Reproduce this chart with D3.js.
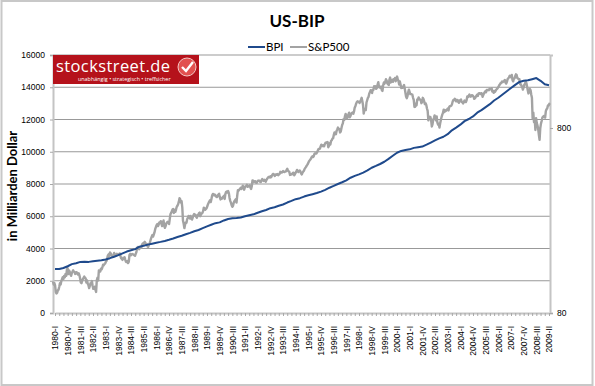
<!DOCTYPE html>
<html>
<head>
<meta charset="utf-8">
<script src="https://cdnjs.cloudflare.com/ajax/libs/d3/7.8.5/d3.min.js"></script>
<style>
	body { margin: 0; background: #fff; }
	svg { display: block; }
	text { fill: #000; }
	.axis text { font-family: "Liberation Sans", Arial, sans-serif; font-size: 8.5px; }
	.axis .domain { stroke: #c4c4c4; stroke-width: 2px; }
	.axis .tick line { stroke: #a8a8a8; }
</style>
</head>
<body>
<div id="chart"></div>
<script>
let quarterNames = ['I', 'II', 'III', 'IV'];
let startYear = 1980;

// BIP per quarter, 1980-I to 2009-II, in Milliarden Dollar
let bpi = [
	2727, 2725, 2790, 2900,
	3030, 3090, 3170, 3180,
	3170, 3210, 3240, 3270,
	3320, 3400, 3490, 3590,
	3700, 3810, 3890, 3960,
	4110, 4170, 4240, 4300,
	4360, 4410, 4470, 4540,
	4620, 4710, 4790, 4880,
	4970, 5070, 5150, 5260,
	5370, 5470, 5570, 5620,
	5740, 5830, 5880, 5890,
	5920, 6000, 6060, 6120,
	6220, 6310, 6390, 6500,
	6560, 6650, 6730, 6850,
	6950, 7060, 7120, 7220,
	7300, 7370, 7440, 7530,
	7640, 7770, 7880, 8000,
	8110, 8230, 8390, 8500,
	8600, 8710, 8840, 9010,
	9120, 9240, 9380, 9560,
	9750, 9940, 10050, 10110,
	10150, 10240, 10280, 10320,
	10440, 10570, 10700, 10830,
	10930, 11090, 11330, 11500,
	11680, 11900, 12030, 12190,
	12420, 12580, 12770, 12950,
	13180, 13350, 13550, 13750,
	13950, 14150, 14330, 14400,
	14430, 14500, 14570, 14400,
	14180, 14130
];

// S&P500 twice a month, Jan 1980 to Oct 2009, on the log axis
let sp500 = [
	118, 114, 116, 113, 104, 102, 103, 106, 107, 111, 116, 114, 119, 122, 125, 122, 127, 125, 130, 127, 137, 140, 130, 136,
	134, 130, 127, 131, 134, 136, 134, 133, 130, 133, 133, 131, 129, 131, 128, 123, 117, 116, 120, 122, 124, 126, 124, 123,
	117, 120, 115, 113, 109, 112, 116, 116, 119, 112, 108, 110, 111, 107, 104, 120, 124, 120, 136, 134, 134, 139, 138, 141,
	146, 145, 147, 148, 151, 153, 158, 164, 166, 162, 170, 168, 165, 163, 161, 164, 169, 166, 165, 164, 167, 166, 165, 165,
	168, 163, 158, 157, 155, 159, 157, 160, 155, 151, 151, 153, 149, 151, 165, 167, 164, 166, 167, 166, 165, 164, 163, 167,
	171, 180, 182, 181, 177, 181, 182, 180, 187, 190, 189, 192, 194, 191, 187, 189, 183, 182, 187, 190, 196, 202, 207, 211,
	207, 212, 218, 227, 233, 239, 242, 236, 240, 247, 245, 251, 243, 236, 246, 253, 237, 231, 236, 244, 247, 249, 247, 242,
	258, 274, 278, 284, 290, 292, 278, 288, 282, 290, 300, 304, 310, 319, 334, 330, 316, 322, 298, 252, 243, 230, 240, 247,
	246, 257, 262, 268, 264, 259, 268, 261, 256, 262, 270, 274, 270, 272, 265, 262, 268, 272, 277, 279, 267, 274, 276, 278,
	285, 297, 295, 289, 292, 295, 302, 310, 316, 321, 326, 318, 332, 346, 352, 351, 346, 349, 343, 340, 339, 346, 349, 353,
	338, 329, 334, 332, 338, 340, 344, 331, 352, 361, 363, 358, 365, 356, 335, 323, 316, 306, 300, 304, 316, 322, 326, 330,
	316, 344, 369, 367, 372, 375, 380, 375, 381, 390, 380, 371, 382, 388, 388, 395, 385, 388, 387, 392, 382, 375, 388, 417,
	416, 409, 412, 413, 405, 404, 412, 415, 416, 415, 409, 408, 417, 424, 418, 414, 420, 418, 410, 419, 424, 431, 434, 436,
	432, 439, 434, 443, 450, 452, 448, 440, 445, 450, 447, 451, 445, 448, 452, 464, 460, 459, 464, 468, 463, 462, 465, 466,
	474, 482, 470, 467, 463, 446, 447, 451, 450, 457, 459, 444, 451, 458, 465, 475, 468, 463, 469, 472, 465, 454, 449, 459,
	465, 470, 481, 487, 493, 501, 507, 515, 526, 533, 539, 545, 556, 562, 557, 562, 578, 584, 582, 582, 592, 605, 617, 616,
	618, 636, 650, 640, 640, 646, 637, 654, 665, 669, 666, 671, 630, 640, 662, 652, 680, 687, 700, 705, 735, 757, 740, 741,
	772, 786, 805, 791, 789, 757, 765, 801, 830, 848, 893, 885, 925, 954, 925, 899, 920, 947, 968, 915, 930, 955, 965, 970,
	955, 980, 1030, 1049, 1080, 1102, 1115, 1112, 1110, 1091, 1110, 1134, 1165, 1121, 1065, 957, 1000, 1017, 1000, 1099, 1130, 1164, 1180, 1229,
	1250, 1280, 1255, 1238, 1290, 1286, 1345, 1335, 1345, 1302, 1320, 1373, 1415, 1329, 1325, 1320, 1340, 1283, 1270, 1363, 1410, 1389, 1420, 1469,
	1445, 1394, 1380, 1366, 1460, 1499, 1410, 1452, 1455, 1421, 1470, 1455, 1490, 1431, 1490, 1518, 1470, 1437, 1375, 1429, 1375, 1315, 1330, 1320,
	1345, 1366, 1310, 1240, 1180, 1160, 1190, 1249, 1290, 1256, 1220, 1224, 1215, 1211, 1165, 1134, 1040, 1041, 1085, 1060, 1140, 1139, 1170, 1148,
	1140, 1130, 1090, 1107, 1165, 1147, 1115, 1077, 1090, 1067, 1020, 990, 880, 912, 920, 916, 880, 815, 840, 886, 905, 936, 905, 880,
	925, 856, 835, 841, 805, 849, 885, 917, 945, 964, 1005, 975, 1000, 990, 995, 1008, 1020, 996, 1040, 1051, 1050, 1058, 1075, 1112,
	1135, 1131, 1150, 1145, 1115, 1126, 1135, 1107, 1095, 1121, 1135, 1141, 1105, 1102, 1085, 1104, 1125, 1115, 1105, 1130, 1185, 1174, 1195, 1212,
	1185, 1181, 1200, 1204, 1195, 1181, 1150, 1157, 1175, 1192, 1210, 1191, 1225, 1234, 1235, 1220, 1235, 1229, 1180, 1207, 1230, 1249, 1265, 1248,
	1285, 1280, 1285, 1281, 1305, 1295, 1295, 1311, 1260, 1270, 1240, 1270, 1255, 1277, 1295, 1304, 1320, 1336, 1365, 1378, 1400, 1401, 1425, 1418,
	1430, 1438, 1455, 1407, 1390, 1421, 1470, 1482, 1505, 1531, 1525, 1503, 1550, 1455, 1430, 1474, 1485, 1527, 1560, 1549, 1490, 1481, 1470, 1468,
	1380, 1379, 1350, 1331, 1290, 1323, 1370, 1386, 1425, 1400, 1340, 1280, 1230, 1267, 1300, 1283, 1215, 1165, 900, 969, 860, 896, 780, 903,
	850, 826, 790, 735, 690, 798, 845, 873, 910, 919, 930, 919, 910, 987, 1010, 1020, 1060, 1057, 1080, 1090
];

let leftTicks = [0, 2000, 4000, 6000, 8000, 10000, 12000, 14000, 16000];
let rightTicks = [80, 800];
let legendNames = ['BPI', 'S&P500'];
let colors = ['#1f4a8c', '#a3a3a3'];

let width = 595;
let height = 386;
let plotLeft = 53;
let plotRight = 550;
let plotTop = 55;
let plotBottom = 313;

// Quarter labels like 1980-I, 1980-II, ...
let quarters = bpi.map((d, i) => `${startYear + Math.floor(i / 4)}-${quarterNames[i % 4]}`);

let svg = d3.select('#chart')
		.append('svg')
		.attr('width', width)
		.attr('height', height);

// Outer frame of the chart
svg.append('rect')
		.attr('x', 1.5)
		.attr('y', 1)
		.attr('width', 591)
		.attr('height', 384)
		.attr('fill', '#fff')
		.attr('stroke', '#c8c8c8')
		.attr('stroke-width', 2);

let xScale = d3.scalePoint().domain(quarters).range([55, 549]);
let xHalfMonth = d3.scaleLinear().domain([0, sp500.length - 1]).range([plotLeft, plotRight]);
let yScale = d3.scaleLinear().domain([0, 16000]).range([plotBottom, plotTop]);
let yLog = d3.scaleLog().domain([80, 1985]).range([plotBottom, plotTop]);

// Gridlines, not rounded so some blur over two pixels as in the picture
svg.append('g')
		.selectAll('line')
		.data(leftTicks.slice(1))
		.enter()
		.append('line')
		.attr('x1', plotLeft)
		.attr('x2', plotRight)
		.attr('y1', d => yScale(d))
		.attr('y2', d => yScale(d))
		.attr('stroke', '#999');

// Left axis
svg.append('g')
		.attr('class', 'axis')
		.attr('transform', `translate(${plotLeft}, 0)`)
		.call(d3.axisLeft(yScale).tickValues(leftTicks).tickFormat(d3.format('d')).tickSize(3).tickPadding(5));

// Right axis, logarithmic
svg.append('g')
		.attr('class', 'axis')
		.attr('transform', `translate(${plotRight}, 0)`)
		.call(d3.axisRight(yLog).tickValues(rightTicks).tickFormat(d3.format('d')).tickSize(3).tickPadding(4));

// Bottom axis, a tick for each quarter and a label for every third
let xAxis = svg.append('g')
		.attr('class', 'axis')
		.attr('transform', `translate(0, ${plotBottom})`)
		.call(d3.axisBottom(xScale).tickFormat((d, i) => (i % 3 === 0 ? d : '')).tickSize(3).tickSizeOuter(0));

xAxis.selectAll('text')
		.attr('text-anchor', 'end')
		.attr('transform', 'rotate(-90)')
		.attr('x', -13)
		.attr('y', 0)
		.attr('dy', '0.35em');

// S&P500 goes below the BIP line
svg.append('path')
		.datum(sp500)
		.attr('fill', 'none')
		.attr('stroke', colors[1])
		.attr('stroke-width', 2.4)
		.attr('stroke-linejoin', 'round')
		.attr('d', d3.line().x((d, i) => xHalfMonth(i)).y(d => yLog(d)));

svg.append('path')
		.datum(bpi)
		.attr('fill', 'none')
		.attr('stroke', colors[0])
		.attr('stroke-width', 2)
		.attr('stroke-linejoin', 'round')
		.attr('d', d3.line().x((d, i) => xScale(quarters[i])).y(d => yScale(d)));

// Title and axis label
svg.append('text')
		.attr('x', 297)
		.attr('y', 27)
		.attr('text-anchor', 'middle')
		.style('font-family', 'Lato, sans-serif')
		.style('font-size', '17px')
		.style('font-weight', 'bold')
		.text('US-BIP');

svg.append('text')
		.attr('transform', 'translate(17, 186) rotate(-90)')
		.attr('text-anchor', 'middle')
		.style('font-family', 'Lato, sans-serif')
		.style('font-size', '13px')
		.style('font-weight', 'bold')
		.text('in Milliarden Dollar');

// Legend
let legendX = [248, 290];
let legend = svg.append('g')
		.selectAll('g')
		.data(legendNames)
		.enter()
		.append('g')
		.attr('transform', (d, i) => `translate(${legendX[i]}, 47)`);

legend.append('line')
		.attr('x1', 0)
		.attr('x2', 17)
		.attr('stroke', (d, i) => colors[i])
		.attr('stroke-width', 2);

legend.append('text')
		.attr('x', 18)
		.attr('y', 4)
		.style('font-family', 'Lato, sans-serif')
		.style('font-size', '11.5px')
		.text(d => d);

// Logo block over the top left of the plot
let logo = svg.append('g').attr('transform', `translate(${plotLeft}, ${plotTop})`);

logo.append('rect')
		.attr('width', 146)
		.attr('height', 29)
		.attr('fill', '#b5121b');

logo.append('text')
		.attr('x', 3)
		.attr('y', 16.5)
		.style('font-family', '"Open Sans", sans-serif')
		.style('font-size', '16.5px')
		.style('letter-spacing', '0.4px')
		.style('fill', '#fff')
		.text('stockstreet.de');

logo.append('text')
		.attr('x', 25)
		.attr('y', 26)
		.style('font-family', '"Open Sans", sans-serif')
		.style('font-size', '5.4px')
		.style('fill', '#fff')
		.text('unabhängig • strategisch • treffsicher');

logo.append('circle')
		.attr('cx', 134)
		.attr('cy', 12)
		.attr('r', 9)
		.attr('fill', '#e2504f')
		.attr('stroke', '#f3c9c6');

logo.append('path')
		.attr('d', d3.line()([[129, 12], [133, 16], [140, 7]]))
		.attr('fill', 'none')
		.attr('stroke', '#fff')
		.attr('stroke-width', 2.4);
</script>
</body>
</html>
